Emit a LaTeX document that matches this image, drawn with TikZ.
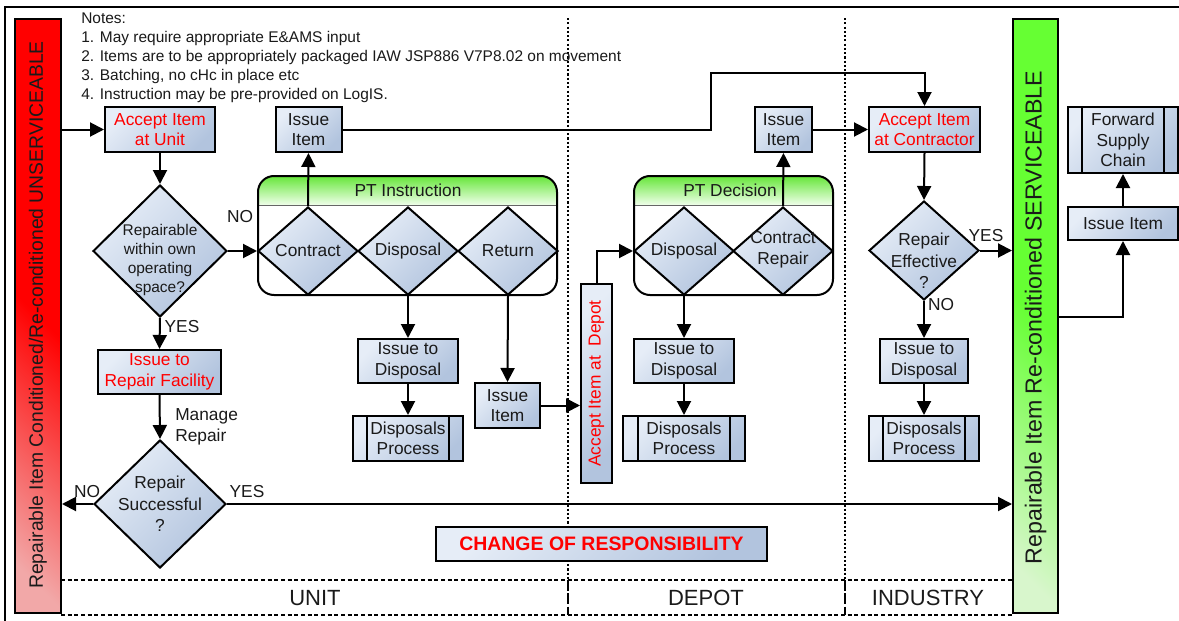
\documentclass[tikz,border=0pt]{standalone}
\usepackage{fontspec}
\setmainfont{Liberation Sans}
\usetikzlibrary{shapes.geometric,arrows.meta,calc}

\definecolor{bxlight}{HTML}{E6EDF7}
\definecolor{bxdark}{HTML}{B2C4DE}
\definecolor{txt}{HTML}{1A1A1A}
\definecolor{hdgreen}{HTML}{66E63A}
\definecolor{hdlight}{HTML}{F0FFEA}
\definecolor{redlt}{HTML}{F2A8A8}
\definecolor{redfull}{HTML}{FF0000}
\definecolor{grnlt}{HTML}{D8F6CC}
\definecolor{grnfull}{HTML}{66FF33}

\pgfdeclareverticalshading{redbarsh}{100bp}{color(0bp)=(redlt); color(20bp)=(redlt); color(50bp)=(redfull); color(100bp)=(redfull)}
\pgfdeclareverticalshading{grnbarsh}{100bp}{color(0bp)=(grnlt); color(20bp)=(grnlt); color(50bp)=(grnfull); color(100bp)=(grnfull)}

\newcommand\fbody{\fontsize{13}{15.4}\selectfont}
\newcommand\fsmall{\fontsize{11.6}{14.25}\selectfont}
\newcommand\fbig{\fontsize{16.5}{19}\selectfont}

\tikzset{
  px/.style 2 args={minimum width=#1*0.75pt, minimum height=#2*0.75pt},
  box/.style={draw=black, line width=1.5pt, top color=bxlight, bottom color=bxdark, shading angle=45,
              inner sep=0pt, align=center, font=\fbody, text=txt},
  proc/.style={box},
  dia/.style={diamond, draw=black, line width=1.5pt, top color=bxlight, bottom color=bxdark, shading angle=45,
              inner sep=0pt},
  dtxt/.style={align=center, font=\fbody, text=txt, inner sep=0pt},
  lbl/.style={font=\fbody, text=txt, inner sep=0pt},
  arr/.style={line width=1.5pt, -{Triangle[length=10.5pt,width=10.5pt]}},
  cont/.style={draw=black, line width=1.5pt, rounded corners=12pt, inner sep=0pt},
  vdot/.style={line width=1.3pt, dash pattern=on 1.6pt off 1.6pt},
  hdash/.style={line width=1.2pt, dash pattern=on 3pt off 2pt},
}

\begin{document}
\begin{tikzpicture}[x=0.75pt,y=-0.75pt]
\useasboundingbox (0,0) rectangle (1179,621);
\fill[white] (0,0) rectangle (1179,621);

% frame
\draw[line width=1.5pt] (5,621) -- (5,7) -- (1179,7);

% swimlane separators
\draw[vdot] (568,18) -- (568,580);
\draw[vdot] (845,18) -- (845,580);
\draw[hdash] (61,580) -- (1013,580);
\draw[hdash] (61,615) -- (1013,615);
\draw[line width=1.2pt, dash pattern=on 8pt off 2pt] (568,580) -- (568,615);
\draw[line width=1.2pt, dash pattern=on 8pt off 2pt] (845,580) -- (845,615);
\node[font=\fbig, text=txt] (lunit) at (315,598) {UNIT};
\node[font=\fbig, text=txt] (ldepot) at (706,598) {DEPOT};
\node[font=\fbig, text=txt] (lind) at (928,598) {INDUSTRY};

% side bars
\node[draw=black, line width=1.5pt, shading=redbarsh, shading angle=-45, px={46}{594}, inner sep=0pt] (rb) at (38,316) {};
\node[rotate=90, font=\fontsize{14.5}{17}\selectfont, text=txt] (rbt) at (38,315) {Repairable Item Conditioned/Re-conditioned UNSERVICEABLE};
\node[draw=black, line width=1.5pt, shading=grnbarsh, shading angle=-45, px={45}{594}, inner sep=0pt] (gb) at (1035.5,316) {};
\node[rotate=90, font=\fontsize{17.4}{20}\selectfont, text=txt] (gbt) at (1035.5,317.5) {Repairable Item Re-conditioned SERVICEABLE};

% notes
\node[anchor=north west, align=left, font=\fsmall, text=txt, inner sep=0pt] (notes) at (81,12.5)
 {Notes:\\1. May require appropriate E\&AMS input\\2. Items are to be appropriately packaged IAW JSP886 V7P8.02 on movement\\3. Batching, no cHc in place etc\\4. Instruction may be pre-provided on LogIS.};

% containers with green headers
\begin{scope}
  \clip[rounded corners=12pt] (258,176) rectangle (557,295);
  \shade[top color=hdgreen, bottom color=hdlight] (258,176) rectangle (557,205);
\end{scope}
\begin{scope}
  \clip[rounded corners=12pt] (634,176) rectangle (833,295);
  \shade[top color=hdgreen, bottom color=hdlight] (634,176) rectangle (833,205);
\end{scope}
\draw[line width=0.6pt, black!60] (258,205) -- (557,205);
\draw[line width=0.6pt, black!60] (634,205) -- (833,205);
\node[cont, px={299}{119}] (pti) at (407.5,235.5) {};
\node[cont, px={199}{119}] (ptd) at (733.5,235.5) {};
\node[lbl] (ptit) at (408,190) {PT Instruction};
\node[lbl] (ptdt) at (730,190) {PT Decision};

% unit lane
\node[box, px={110}{45}, text=red] (acu) at (160,129.5) {Accept Item\\at Unit};
\node[dia, px={134}{132}] (d1) at (160,251) {};
\node[dtxt, font=\fsmall] (d1t) at (160,260) {Repairable\\within own\\operating\\space?};
\node[box, px={123}{44}, text=red] (rf) at (159.5,372) {Issue to\\Repair Facility};
\node[dia, px={132}{128}] (d2) at (160,504) {};
\node[dtxt, font=\fontsize{13}{16.2}\selectfont] (d2t) at (160,504) {Repair\\Successful\\?};

\node[box, px={66}{45}] (is1) at (308.5,129.5) {Issue\\Item};
\node[dia, px={100}{88}] (c1) at (308,251) {};
\node[dtxt] (c1t) at (308,251) {Contract};
\node[dia, px={100}{88}] (c2) at (408,251) {};
\node[dtxt] (c2t) at (408,251) {Disposal};
\node[dia, px={100}{88}] (c3) at (508,251) {};
\node[dtxt] (c3t) at (508,251) {Return};
\node[box, px={100}{44}] (id1) at (408,361) {Issue to\\Disposal};
\node[proc, px={110}{45}] (dp1) at (408,438.5) {Disposals\\Process};
\node[box, px={65}{45}] (is2) at (507.5,405.5) {Issue\\Item};

% depot lane
\node[box, rotate=90, px={199}{31}, text=red] (dep) at (596.5,383.5) {Accept Item at~\ Depot};
\node[dia, px={100}{88}] (pd1) at (684,251) {};
\node[dtxt] (pd1t) at (684,251) {Disposal};
\node[dia, px={100}{88}] (pd2) at (783,251) {};
\node[dtxt] (pd2t) at (783,250) {Contract\\Repair};
\node[box, px={100}{44}] (id2) at (684,361) {Issue to\\Disposal};
\node[proc, px={122}{45}] (dp2) at (684,438.5) {Disposals\\Process};
\node[box, px={57}{45}] (is3) at (783.5,129.5) {Issue\\Item};

% industry lane
\node[box, px={111}{45}, text=red] (acc) at (924.5,129.5) {Accept Item\\at Contractor};
\node[dia, px={110}{99}] (d3) at (924,250.5) {};
\node[dtxt, font=\fontsize{13}{16.2}\selectfont] (d3t) at (924,261) {Repair\\Effective\\?};
\node[box, px={88}{44}] (id3) at (924,361) {Issue to\\Disposal};
\node[proc, px={110}{45}] (dp3) at (924,438.5) {Disposals\\Process};

% right column
\node[proc, px={110}{66}] (fsc) at (1123,140) {Forward\\Supply\\Chain};
\node[box, px={110}{33}] (is4) at (1123,223.5) {Issue Item};

% change of responsibility
\node[box, px={331}{34}, text=red, font=\bfseries\fontsize{14.6}{17}\selectfont] (cor) at (601.5,544) {CHANGE OF RESPONSIBILITY};

% process side bars
\foreach \n/\o in {dp1/15,dp2/16,dp3/15,fsc/15}{
  \draw[line width=1.5pt] ($(\n.north west)+(\o,0)$) -- ($(\n.south west)+(\o,0)$);
  \draw[line width=1.5pt] ($(\n.north east)+(-\o,0)$) -- ($(\n.south east)+(-\o,0)$);
}

% labels
\node[lbl] (l1) at (240,217) {NO};
\node[lbl] (l2) at (182,327) {YES};
\node[lbl, align=left, anchor=west, font=\fontsize{13}{16}\selectfont] (l3) at (175,427) {Manage\\Repair};
\node[lbl] (l4) at (87,492) {NO};
\node[lbl] (l5) at (247,492) {YES};
\node[lbl] (l6) at (986,236) {YES};
\node[lbl] (l7) at (941,305) {NO};

% connectors
\coordinate (bendA) at (711,73);
\coordinate (gout) at (1058,317);
\draw[arr] (rb.east |- acu.west) -- (acu.west);
\draw[arr] (acu.south) -- (d1.north);
\draw[arr] (d1.east) -- (c1.west);
\draw[arr] (d1.south) -- (rf.north);
\draw[arr] (rf.south) -- (d2.north);
\draw[arr] (d2.west) -- (d2.west -| rb.east);
\draw[arr] (d2.east) -- (d2.east -| gb.west);
\draw[arr] (c1.north) -- (is1.south);
\draw[arr] (is1.east) -| (bendA) -| (acc.north);
\draw[arr] (c2.south) -- (id1.north);
\draw[arr] (id1.south) -- (dp1.north);
\draw[arr] (c3.south) -- (is2.north);
\draw[arr] (is2.east) -- (is2.east -| dep.north);
\draw[arr] (dep.east) |- (pd1.west);
\draw[arr] (pd1.south) -- (id2.north);
\draw[arr] (id2.south) -- (dp2.north);
\draw[arr] (pd2.north) -- (is3.south);
\draw[arr] (is3.east) -- (acc.west);
\draw[arr] (acc.south) -- (d3.north);
\draw[arr] (d3.east) -- (d3.east -| gb.west);
\draw[arr] (d3.south) -- (id3.north);
\draw[arr] (id3.south) -- (dp3.north);
\draw[arr] (gout) -| (is4.south);
\draw[arr] (is4.north) -- (fsc.south);
\end{tikzpicture}
\end{document}
